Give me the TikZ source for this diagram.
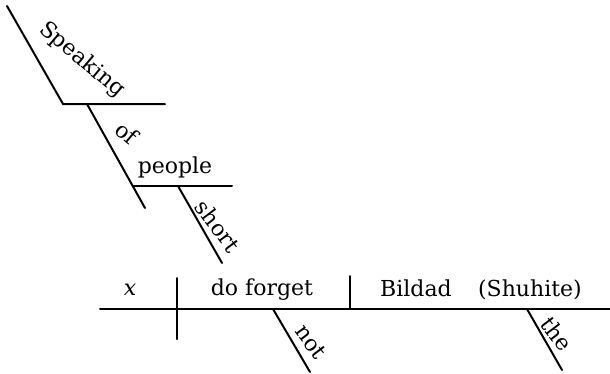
\documentclass[tikz,border=0pt]{standalone}
\usepackage{fontspec}
\setmainfont{DejaVu Serif}
\begin{document}
\begin{tikzpicture}[x=1pt,y=1pt,
    rule/.style={line width=2pt, line cap=round},
    word/.style={font=\fontsize{22}{26}\selectfont, inner sep=0pt}]

            \useasboundingbox (0,0) rectangle (610,-373);

            %---------------- PUNTOS ----------------
            \coordinate (spTop) at (7,-6);
            \coordinate (spFoot) at (63,-104);
            \coordinate (spEnd) at (165,-104);
            \coordinate (ofTop) at (87,-104);
            \coordinate (ofFoot) at (145,-208);
            \coordinate (peFoot) at (132.7,-186);
            \coordinate (peEnd) at (232,-186);
            \coordinate (shTop) at (178,-186);
            \coordinate (shFoot) at (222,-263);
            \coordinate (mainL) at (100,-309);
            \coordinate (mainR) at (610,-309);
            \coordinate (divAtop) at (177,-278);
            \coordinate (divAbot) at (177,-339);
            \coordinate (divBtop) at (350,-276);
            \coordinate (divBbot) at (350,-309);
            \coordinate (notTop) at (273,-309);
            \coordinate (notFoot) at (310,-372);
            \coordinate (theTop) at (527,-309);
            \coordinate (theFoot) at (562,-370);

            %---------------- FRASE PARTICIPIAL ----------------
            \draw[rule] (spTop) -- (spFoot) -- (spEnd);
            \draw[rule] (ofTop) -- (ofFoot);
            \draw[rule] (peFoot) -- (peEnd);
            \draw[rule] (shTop) -- (shFoot);

            %---------------- LINEA PRINCIPAL ----------------
            \draw[rule] (mainL) -- (mainR);
            \draw[rule] (divAtop) -- (divAbot);
            \draw[rule] (divBtop) -- (divBbot);
            \draw[rule] (notTop) -- (notFoot);
            \draw[rule] (theTop) -- (theFoot);

            %---------------- PALABRAS ----------------
            \node[word, rotate=-40] (speaking) at (82,-60) {Speaking};
            \node[word, rotate=-40] (of) at (127,-133) {of};
            \node[word] (people) at (175,-167) {people};
            \node[word, rotate=-53] (short) at (218,-226) {short};
            \node[word] (subject) at (130,-290) {\textit{x}};
            \node[word] (verb) at (262,-290) {do forget};
            \node[word] (object) at (481,-290) {Bildad\hspace{1.2em}(Shuhite)};
            \node[word, rotate=-53] (not) at (311,-342) {not};
            \node[word, rotate=-53] (the) at (557,-334) {the};

        \end{tikzpicture}
\end{document}
